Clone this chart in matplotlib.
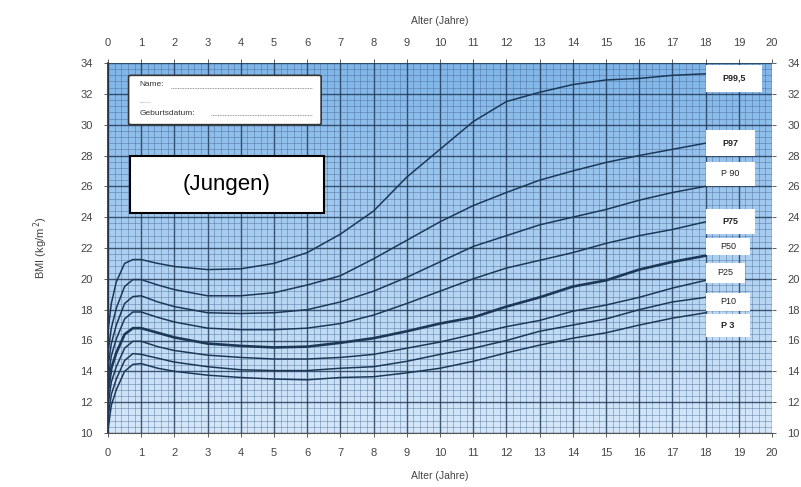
import numpy as np
import matplotlib
matplotlib.use("Agg")
import matplotlib.pyplot as plt
from matplotlib.patches import Rectangle, FancyBboxPatch
from matplotlib.ticker import MultipleLocator

plt.rcParams['font.family'] = ['Liberation Sans', 'DejaVu Sans']

ages = [0, 0.1, 0.25, 0.5, 0.75, 1, 1.5, 2, 3, 4, 5, 6, 7, 8, 9, 10, 11, 12, 13, 14, 15, 16, 17, 18]
p3   = [10.2, 11.8, 12.8, 14.0, 14.45, 14.5, 14.2, 14.0, 13.75, 13.6, 13.5, 13.45, 13.6, 13.65, 13.9, 14.2, 14.65, 15.2, 15.7, 16.15, 16.5, 17.0, 17.45, 17.8]
p10  = [11.0, 12.5, 13.5, 14.7, 15.15, 15.1, 14.85, 14.6, 14.3, 14.1, 14.05, 14.05, 14.2, 14.3, 14.65, 15.1, 15.5, 16.0, 16.6, 17.0, 17.4, 18.0, 18.5, 18.8]
p25  = [11.8, 13.3, 14.3, 15.5, 15.95, 15.95, 15.6, 15.35, 15.05, 14.9, 14.8, 14.8, 14.9, 15.1, 15.5, 15.9, 16.4, 16.9, 17.3, 17.9, 18.3, 18.8, 19.4, 19.9]
p50  = [12.7, 14.2, 15.2, 16.4, 16.8, 16.8, 16.5, 16.2, 15.8, 15.65, 15.55, 15.6, 15.85, 16.15, 16.6, 17.1, 17.5, 18.2, 18.8, 19.5, 19.9, 20.6, 21.1, 21.5]
p75  = [13.5, 15.0, 16.1, 17.4, 17.85, 17.85, 17.5, 17.2, 16.8, 16.7, 16.7, 16.8, 17.1, 17.65, 18.4, 19.2, 20.0, 20.7, 21.2, 21.7, 22.3, 22.8, 23.2, 23.7]
p90  = [14.3, 15.8, 17.0, 18.4, 18.85, 18.9, 18.5, 18.2, 17.8, 17.75, 17.8, 18.0, 18.5, 19.2, 20.1, 21.1, 22.1, 22.8, 23.5, 24.0, 24.5, 25.1, 25.6, 26.0]
p97  = [15.2, 16.8, 18.1, 19.5, 19.95, 19.95, 19.6, 19.3, 18.9, 18.9, 19.1, 19.6, 20.2, 21.3, 22.5, 23.7, 24.75, 25.6, 26.4, 27.0, 27.55, 28.0, 28.4, 28.8]
p995 = [16.6, 18.4, 19.8, 21.0, 21.25, 21.25, 21.0, 20.8, 20.6, 20.65, 21.0, 21.7, 22.9, 24.4, 26.6, 28.4, 30.2, 31.5, 32.1, 32.6, 32.9, 33.0, 33.2, 33.3]

series = [p3, p10, p25, p50, p75, p90, p97, p995]
series_labels = ["P 3", "P10", "P25", "P50", "P75", "P 90", "P97", "P99,5"]
label_y = [17.0, 18.5, 20.4, 22.1, 23.7, 26.8, 28.8, 33.0]
label_bold = [True, False, False, False, True, False, True, True]
box_w = [1.35, 1.35, 1.2, 1.35, 1.5, 1.5, 1.5, 1.7]
box_h = [1.5, 1.2, 1.3, 1.15, 1.6, 1.6, 1.7, 1.8]

x_ticks = list(range(0, 21))
y_ticks = list(range(10, 35, 2))

fig = plt.figure(figsize=(8.01, 4.87), dpi=100)
ax = fig.add_axes([108/801, 1-433/487, (772-108)/801, (433-63)/487])
ax.set_xlim(0, 20)
ax.set_ylim(10, 34)

# gradient background (darker at top)
grad = np.linspace(0, 1, 256).reshape(-1, 1)
top = np.array([0.50, 0.71, 0.91])
bot = np.array([0.84, 0.91, 0.98])
img = top[None, None, :] * (1 - grad[:, :, None]) + bot[None, None, :] * grad[:, :, None]
ax.imshow(img, extent=[0, 20, 10, 34], origin='upper', aspect='auto', zorder=0,
          interpolation='bilinear')

ax.xaxis.set_major_locator(MultipleLocator(1))
ax.xaxis.set_minor_locator(MultipleLocator(0.2))
ax.yaxis.set_major_locator(MultipleLocator(2))
ax.yaxis.set_minor_locator(MultipleLocator(0.4))
ax.grid(which='minor', color='#3d5f8a', linewidth=0.6, alpha=0.45, zorder=1)
ax.grid(which='major', color='#1c3350', linewidth=1.0, alpha=0.8, zorder=1)
ax.set_axisbelow(False)

for s, lab in zip(series, series_labels):
    lw = 1.9 if lab == "P50" else 1.1
    ax.plot(ages, s, color='#1d3857', linewidth=lw, zorder=3)

for spine in ['top', 'right']:
    ax.spines[spine].set_visible(False)
ax.spines['left'].set_color('#222222')
ax.spines['bottom'].set_color('#555555')
ax.spines['left'].set_linewidth(1.2)

ax.tick_params(which='both', top=True, right=True, labeltop=True, labelright=True,
               labelsize=8, colors='#444444', length=3, width=0.6, pad=8)
ax.tick_params(axis='x', which='major', bottom=True, pad=10)
ax.tick_params(axis='x', which='major', top=True, pad=8)
ax.tick_params(which='minor', length=0)
ax.set_xticks(x_ticks)
ax.set_yticks(y_ticks)

ax.set_xlabel("Alter (Jahre)", fontsize=7.5, color='#444444', labelpad=9)
ax.text(10, 36.75, "Alter (Jahre)", fontsize=7.5, color='#444444', ha='center', va='center')
ax.set_ylabel("BMI (kg/m$^{\\,2}$)", fontsize=8, color='#444444', labelpad=22)

# label boxes on the right
for lab, yv, b, w, h in zip(series_labels, label_y, label_bold, box_w, box_h):
    ax.add_patch(Rectangle((18.0, yv - h / 2), w, h, fc='white', ec='none', zorder=5))
    ax.text(18.0 + w / 2, yv, lab, fontsize=6.5, fontweight='bold' if b else 'normal',
            color='#222222', ha='center', va='center', zorder=6)

# Name box
ax.add_patch(FancyBboxPatch((0.62, 30.0), 5.8, 3.2, boxstyle='round,pad=0,rounding_size=0.08',
                            fc='white', ec='#333333', lw=1.2, zorder=5))
ax.text(0.95, 32.6, "Name:", fontsize=6, color='#333333', va='center', zorder=6)
ax.plot([1.9, 6.15], [32.4, 32.4], color='#777777', lw=0.6, ls=(0, (1, 1)), zorder=6)
ax.text(0.95, 31.5, "......", fontsize=5, color='#777777', va='center', zorder=6)
ax.text(0.95, 30.75, "Geburtsdatum:", fontsize=6, color='#333333', va='center', zorder=6)
ax.plot([3.1, 6.15], [30.6, 30.6], color='#777777', lw=0.6, ls=(0, (1, 1)), zorder=6)

# Jungen box
ax.add_patch(Rectangle((0.65, 24.3), 5.85, 3.7, fc='white', ec='black', lw=1.5, zorder=5))
ax.text(3.575, 26.15, "(Jungen)", fontsize=16, color='black', ha='center', va='center', zorder=6)

fig.savefig("out.png", dpi=100)
